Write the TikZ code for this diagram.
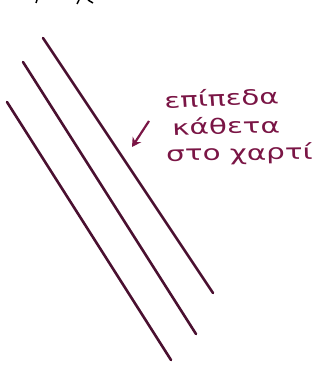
\documentclass[tikz,border=0pt]{standalone}
\usepackage{fontspec}
\setmainfont{DejaVu Sans}
\usetikzlibrary{arrows.meta}
\definecolor{ink}{HTML}{4A1030}
\definecolor{pen}{HTML}{7A1545}
\tikzset{
  plane/.style={ink, line width=2.6pt, line cap=round},
  note/.style={pen, font=\fontsize{21}{24}\selectfont, inner sep=0pt, anchor=west, xscale=1.4},
  pointer/.style={pen, line width=2.2pt, -{Stealth[length=9pt,width=10pt]}},
  scrap/.style={black, line width=1.5pt}
}
\begin{document}
\begin{tikzpicture}[x=1pt,y=-1pt]
\useasboundingbox (0,0) rectangle (324,366);
\fill[white] (0,0) rectangle (324,366);
% cropped marks at top
\draw[scrap] (37,0) -- (36,3);
\draw[scrap] (79,0) -- (77,4);
\draw[scrap] (88,0) -- (93,3);
% planes
\coordinate (a1) at (43,38);  \coordinate (a2) at (213,293);
\coordinate (b1) at (23,62);  \coordinate (b2) at (196,334);
\coordinate (c1) at (7,102);  \coordinate (c2) at (171,360);
\draw[plane] (a1) -- (a2);
\draw[plane] (b1) -- (b2);
\draw[plane] (c1) -- (c2);
% label
\node[note, rotate=3] (t1) at (164,100) {επίπεδα};
\node[note, rotate=2] (t2) at (172,127) {κάθετα};
\node[note, rotate=1] (t3) at (166,155) {στο χαρτί};
\coordinate (p1) at (149,121);
\coordinate (p2) at (132,147);
\draw[pointer] (p1) -- (p2);
\end{tikzpicture}
\end{document}
